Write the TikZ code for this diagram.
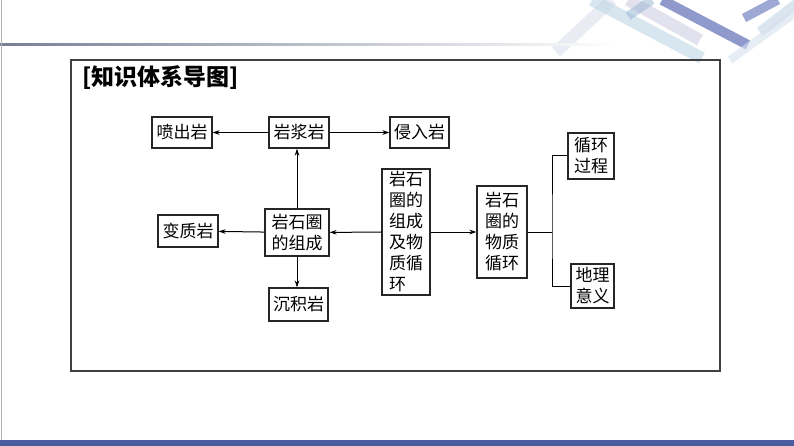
\documentclass[tikz,border=0pt]{standalone}
\usepackage{fontspec}
\setmainfont{Noto Sans CJK SC}
\usetikzlibrary{arrows.meta}
\begin{document}
\begin{tikzpicture}[x=1pt,y=-1pt,
  box/.style={draw=black!85,line width=1.1pt,inner sep=0pt,align=center,
    font=\fontsize{17}{21}\selectfont},
  vbox/.style={box,align=left},
  arr/.style={line width=1pt,-{Stealth[length=7pt,width=4.5pt]}},
  ln/.style={line width=1pt}]
\useasboundingbox (0,0) rectangle (794,446);
\fill[white] (0,0) rectangle (794,446);
% header decoration
\begin{scope}[line cap=butt]
\draw[line width=12pt,color={rgb,255:red,225;green,228;blue,238},opacity=0.7] (556,52) -- (612,0);
\draw[line width=12pt,color={rgb,255:red,190;green,214;blue,230},opacity=0.6] (592,0) -- (702,58);
\draw[line width=12pt,color={rgb,255:red,205;green,208;blue,228},opacity=0.6] (628,0) -- (700,40);
\draw[line width=9pt,color={rgb,255:red,150;green,180;blue,210},opacity=0.5] (628,16) -- (652,0);
\draw[line width=10pt,color={rgb,255:red,115;green,128;blue,190},opacity=0.8] (662,0) -- (748,45);
\draw[line width=9pt,color={rgb,255:red,125;green,140;blue,198},opacity=0.75] (744,18) -- (778,0);
\draw[line width=10pt,color={rgb,255:red,205;green,218;blue,234},opacity=0.7] (760,32) -- (796,4);
\draw[line width=8pt,color={rgb,255:red,215;green,225;blue,238},opacity=0.6] (730,60) -- (794,14);
\end{scope}
\shade[left color={rgb,255:red,120;green,128;blue,150},right color=white] (0,43.5) rectangle (620,45.5);
\draw[line width=0.8pt,black!30] (1,0) -- (1,440);
\fill[color={rgb,255:red,74;green,93;blue,158}] (0,440) rectangle (794,446);
% frame
\draw[line width=1.1pt,black!75] (71,60) rectangle (720,371);
\node[anchor=west,font=\fontsize{23}{27}\selectfont\bfseries] (title) at (79,77.5) {[知识体系导图]};
% nodes
\node[box,minimum width=60pt,minimum height=31pt] (pc) at (182,132.5) {喷出岩};
\node[box,minimum width=60pt,minimum height=31pt] (yj) at (299,132.5) {岩浆岩};
\node[box,minimum width=59pt,minimum height=31pt] (qr) at (419.5,132.5) {侵入岩};
\node[box,minimum width=64pt,minimum height=47pt] (zc) at (297,232.5) {岩石圈\\的组成};
\node[box,minimum width=60pt,minimum height=32pt] (bz) at (188,231) {变质岩};
\node[box,minimum width=59pt,minimum height=33pt] (cj) at (298.5,304.5) {沉积岩};
\node[vbox,minimum width=48pt,minimum height=126pt] (ct) at (406,232) {岩石\\圈的\\组成\\及物\\质循\\环};
\node[box,minimum width=50pt,minimum height=92pt] (wz) at (502,232) {岩石\\圈的\\物质\\循环};
\node[box,minimum width=46pt,minimum height=46pt] (xh) at (591,156) {循环\\过程};
\node[box,minimum width=43pt,minimum height=44pt] (dl) at (592.5,286) {地理\\意义};
\coordinate (br) at (552,232);
% connectors
\draw[arr] (yj) -- (pc);
\draw[arr] (yj) -- (qr);
\draw[arr] (zc.north) -- (zc.north |- yj.south);
\draw[arr] (zc) -- (bz);
\draw[arr] (zc.south) -- (zc.south |- cj.north);
\draw[arr] (ct) -- (zc);
\draw[arr] (ct) -- (wz);
\draw[ln] (wz.east) -- (br);
\draw[ln] (xh.west) -| (br) |- (dl.west);
\end{tikzpicture}
\end{document}
